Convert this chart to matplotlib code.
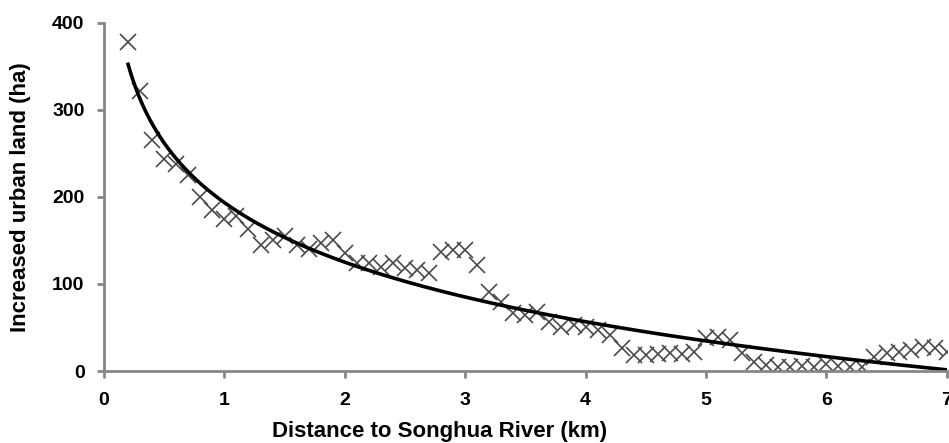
import numpy as np
import matplotlib.pyplot as plt

plt.rcParams['font.family'] = ['Liberation Sans', 'DejaVu Sans']

# distance to river (km) and increased urban land (ha)
distance = [0.2, 0.3, 0.4, 0.5, 0.6, 0.7, 0.8, 0.9, 1.0, 1.1,
            1.2, 1.3, 1.4, 1.5, 1.6, 1.7, 1.8, 1.9, 2.0, 2.1,
            2.2, 2.3, 2.4, 2.5, 2.6, 2.7, 2.8, 2.9, 3.0, 3.1,
            3.2, 3.3, 3.4, 3.5, 3.6, 3.7, 3.8, 3.9, 4.0, 4.1,
            4.2, 4.3, 4.4, 4.5, 4.6, 4.7, 4.8, 4.9, 5.0, 5.1,
            5.2, 5.3, 5.4, 5.5, 5.6, 5.7, 5.8, 5.9, 6.0, 6.1,
            6.2, 6.3, 6.4, 6.5, 6.6, 6.7, 6.8, 6.9, 7.0]
urban = [378, 322, 265, 243, 238, 225, 200, 185, 175, 178,
         163, 145, 150, 155, 145, 140, 147, 150, 136, 124,
         124, 120, 124, 118, 116, 113, 137, 139, 139, 122,
         91, 79, 67, 64, 68, 56, 51, 53, 51, 47,
         41, 26, 18, 18, 20, 21, 20, 22, 38, 39,
         36, 21, 10, 7, 5, 5, 6, 5, 8, 6,
         5, 5, 16, 21, 22, 24, 28, 26, 22]

x = np.array(distance)
y = np.array(urban)

# logarithmic trend line, like the spreadsheet one
b, a = np.polyfit(np.log(x), y, 1)
xf = np.linspace(x.min(), x.max(), 300)
yf = a + b * np.log(xf)

fig = plt.figure(figsize=(9.49, 4.43), dpi=100)
ax = fig.add_axes([0.1096, 0.1625, 0.888, 0.786])

ax.plot(x, y, linestyle='none', marker='x', markersize=12, markeredgewidth=1.2,
        color='#4a4a4a')
ax.plot(xf, yf, color='black', linewidth=2.6)

ax.set_xlim(0, 7)
ax.set_ylim(0, 400)
ax.set_xticks(range(0, 8))
ax.set_yticks(range(0, 401, 100))

for s in ['top', 'right']:
    ax.spines[s].set_visible(False)
for s in ['left', 'bottom']:
    ax.spines[s].set_color('#868686')
    ax.spines[s].set_linewidth(2)

ax.tick_params(axis='both', direction='out', length=5, width=2, color='#868686',
               labelsize=14)
ax.tick_params(axis='x', pad=10)
ax.tick_params(axis='y', pad=9)
for lab in ax.get_xticklabels() + ax.get_yticklabels():
    lab.set_fontweight('bold')

# axis titles placed like in the original (x title sits left of centre)
fig.text(440 / 949, 6 / 443, 'Distance to Songhua River (km)', fontsize=16,
         fontweight='bold', ha='center', va='baseline')
fig.text(21 / 949, 0.555, 'Increased urban land (ha)', fontsize=16,
         fontweight='bold', rotation=90, ha='center', va='center')

fig.savefig('out.png', dpi=100)
